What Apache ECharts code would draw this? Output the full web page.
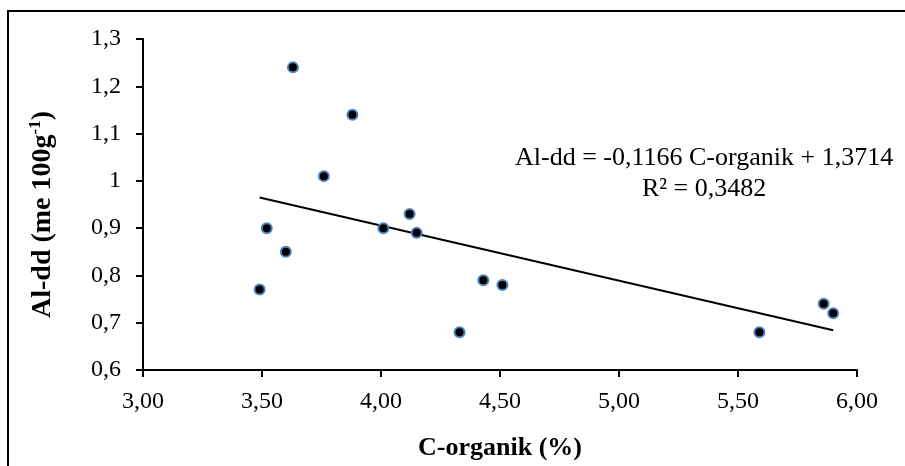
<!DOCTYPE html>
<html>
<head>
<meta charset="utf-8">
<style>
  html, body { margin: 0; padding: 0; background: #fff; }
  #main { width: 905px; height: 466px; }
</style>
<script src="https://cdn.jsdelivr.net/npm/echarts@6/dist/echarts.min.js"></script>
</head>
<body>
<div id="main"></div>
<script>
// C-organik (%) vs Al-dd (me 100g-1)
var cOrganik = [3.63, 3.88, 3.76, 3.52, 3.60, 3.49, 4.01, 4.15, 4.12, 4.43, 4.51, 4.33, 5.59, 5.86, 5.90]
var alDd = [1.24, 1.14, 1.01, 0.90, 0.85, 0.77, 0.90, 0.89, 0.93, 0.79, 0.78, 0.68, 0.68, 0.74, 0.72]
// linear trendline ends
var trendX = [3.49, 5.90]
var trendY = [0.965, 0.684]
var eqText = ["Al-dd = -0,1166 C-organik + 1,3714", "R² = 0,3482"]

var font = "'Liberation Serif', 'Times New Roman', serif"

var points = cOrganik.map(function (x, i) { return [x, alDd[i]] })
var trend = trendX.map(function (x, i) { return [x, trendY[i]] })

var chart = echarts.init(document.getElementById("main"))
var option = {
  animation: false,
  backgroundColor: "#fff",
  textStyle: { fontFamily: font },
  grid: { left: 143, right: 48, top: 39, bottom: 93 },
  graphic: [
    {
      type: "rect",
      shape: { x: 8, y: 11, width: 1000, height: 1000 },
      style: { fill: null, stroke: "#000", lineWidth: 2 },
      silent: true,
    },
    {
      type: "text",
      left: 515,
      top: 143,
      style: {
        text: eqText.join("\n"),
        font: "26px " + font,
        fill: "#000",
        textAlign: "center",
        lineHeight: 31,
      },
    },
  ],
  xAxis: {
    type: "value",
    min: 3,
    max: 6,
    interval: 0.5,
    name: "C-organik (%)",
    nameLocation: "middle",
    nameGap: 65,
    nameTextStyle: { fontFamily: font, fontSize: 26, fontWeight: "bold", color: "#000" },
    axisLine: { show: true, lineStyle: { color: "#000", width: 2 } },
    axisTick: { show: true, length: 7, lineStyle: { color: "#000", width: 2 } },
    splitLine: { show: false },
    axisLabel: {
      fontFamily: font,
      fontSize: 24,
      color: "#000",
      margin: 20,
      formatter: function (v) { return v.toFixed(2).replace(".", ",") },
    },
  },
  yAxis: {
    type: "value",
    min: 0.6,
    max: 1.3,
    interval: 0.1,
    name: "{b|Al-dd (me 100g}{s|-1}{b|)}",
    nameLocation: "middle",
    nameRotate: 90,
    nameGap: 84,
    nameTextStyle: {
      padding: [0, 20, 0, 0],
      rich: {
        b: { fontFamily: font, fontSize: 28, fontWeight: "bold", color: "#000", lineHeight: 32 },
        s: { fontFamily: font, fontSize: 17, fontWeight: "bold", color: "#000", verticalAlign: "top", lineHeight: 32 },
      },
    },
    axisLine: { show: true, lineStyle: { color: "#000", width: 2 } },
    axisTick: { show: true, length: 7, lineStyle: { color: "#000", width: 2 } },
    splitLine: { show: false },
    axisLabel: {
      fontFamily: font,
      fontSize: 24,
      color: "#000",
      margin: 22,
      formatter: function (v) { return String(+v.toFixed(1)).replace(".", ",") },
    },
  },
  series: [
    {
      name: "trend",
      type: "line",
      data: trend,
      symbol: "none",
      lineStyle: { color: "#000", width: 2 },
      z: 2,
    },
    {
      name: "data",
      type: "scatter",
      data: points,
      symbolSize: 10,
      itemStyle: { color: "#000", borderColor: "#4f81bd", borderWidth: 2, opacity: 1 },
      z: 3,
    },
  ],
}
chart.setOption(option)
</script>
</body>
</html>
